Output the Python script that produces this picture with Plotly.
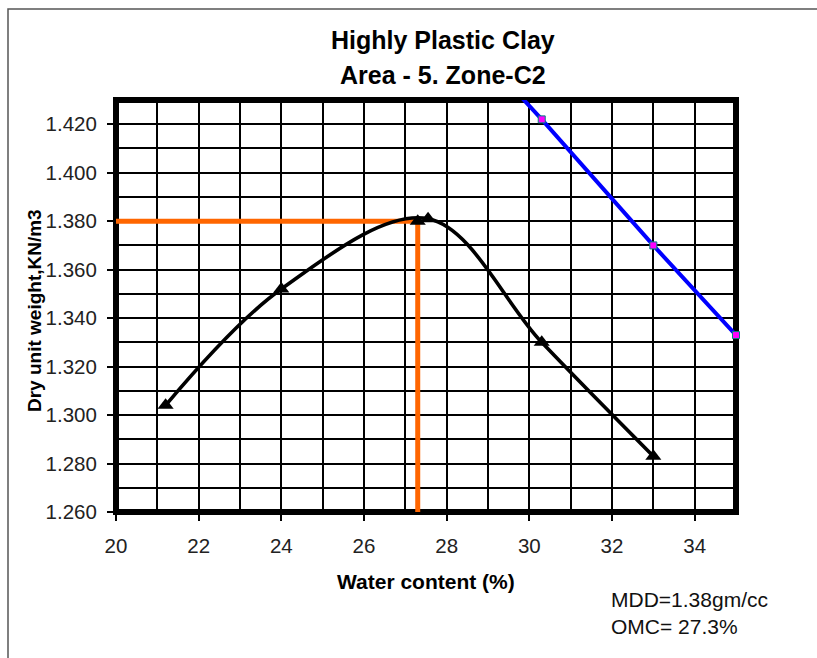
import plotly.graph_objects as go

# ---- data ----
water_content = [21.2, 24.0, 27.55, 30.3, 33.0]
dry_density = [1.304, 1.352, 1.381, 1.330, 1.283]

omc_marker_x = [27.3]
omc_marker_y = [1.380]

zav_water = [27.5, 30.3, 33.0, 35.0]
zav_density = [1.474, 1.422, 1.370, 1.333]

omc = 27.3
mdd = 1.38

x_range = [20, 35]
y_range = [1.26, 1.43]

title_line1 = "Highly Plastic Clay"
title_line2 = "Area - 5. Zone-C2"
x_title = "Water content (%)"
y_title = "Dry unit weight,KN/m3"
note_lines = ["MDD=1.38gm/cc", "OMC= 27.3%"]

# ---- layout geometry ----
W, H = 817, 658
L, R, T, B = 116, 736, 100, 512
ml, mr, mt, mb = L, W - R, T, H - B


def px(xp):
    return (xp - L) / (R - L)


def py(yp):
    return (B - yp) / (B - T)


FONT = "Liberation Sans, Arial, sans-serif"

fig = go.Figure()

fig.add_trace(go.Scatter(
    x=water_content, y=dry_density, mode="lines+markers",
    line=dict(color="black", width=3.6, shape="spline", smoothing=1.0),
    marker=dict(symbol="triangle-up", size=14, color="black"),
    showlegend=False, hoverinfo="skip"))

fig.add_trace(go.Scatter(
    x=omc_marker_x, y=omc_marker_y, mode="markers",
    marker=dict(symbol="triangle-up", size=14, color="black"),
    showlegend=False, hoverinfo="skip"))

fig.add_trace(go.Scatter(
    x=zav_water, y=zav_density, mode="lines+markers",
    line=dict(color="#0000FF", width=4),
    marker=dict(symbol="square", size=7, color="#FF00FF",
                line=dict(color="#008080", width=1)),
    cliponaxis=False,
    showlegend=False, hoverinfo="skip"))

shapes = []
# outer chart frame (top and left edges)
shapes.append(dict(type="path", xref="paper", yref="paper",
                   path=f"M {px(W + 10)},{py(9)} L {px(8)},{py(9)} L {px(8)},{py(H + 10)}",
                   line=dict(color="#555555", width=1.5), layer="below"))
# thick plot border
shapes.append(dict(type="rect", xref="paper", yref="paper", x0=0, x1=1, y0=0, y1=1,
                   line=dict(color="black", width=6), layer="between"))
# orange OMC / MDD lines
shapes.append(dict(type="line", xref="x", yref="y", x0=19.8, x1=omc, y0=mdd, y1=mdd,
                   line=dict(color="#FF6600", width=5), layer="between"))
shapes.append(dict(type="line", xref="x", yref="y", x0=omc, x1=omc, y0=mdd, y1=1.2575,
                   line=dict(color="#FF6600", width=5), layer="between"))

annotations = [
    dict(text=f"<b>{title_line1}</b>", x=px(443), y=py(40), xref="paper", yref="paper",
         showarrow=False, font=dict(family=FONT, size=25, color="black"),
         xanchor="center", yanchor="middle"),
    dict(text=f"<b>{title_line2}</b>", x=px(443), y=py(75), xref="paper", yref="paper",
         showarrow=False, font=dict(family=FONT, size=25, color="black"),
         xanchor="center", yanchor="middle"),
    dict(text=f"<b>{x_title}</b>", x=px(426), y=py(581), xref="paper", yref="paper",
         showarrow=False, font=dict(family=FONT, size=21, color="black"),
         xanchor="center", yanchor="middle"),
    dict(text=f"<b>{y_title}</b>", x=px(34), y=py(311), xref="paper", yref="paper",
         showarrow=False, textangle=-90, font=dict(family=FONT, size=19, color="black"),
         xanchor="center", yanchor="middle"),
    dict(text=note_lines[0], x=px(609), y=py(599), xref="paper", yref="paper",
         showarrow=False, font=dict(family=FONT, size=21, color="#111111"),
         xanchor="left", yanchor="middle"),
    dict(text=note_lines[1], x=px(609), y=py(626), xref="paper", yref="paper",
         showarrow=False, font=dict(family=FONT, size=21, color="#111111"),
         xanchor="left", yanchor="middle"),
]

fig.update_layout(
    width=W, height=H,
    margin=dict(l=ml, r=mr, t=mt, b=mb, pad=0),
    paper_bgcolor="white", plot_bgcolor="white",
    font=dict(family=FONT, size=20.5, color="#222222"),
    shapes=shapes, annotations=annotations,
    xaxis=dict(range=x_range, tick0=20, dtick=2, showgrid=True,
               gridcolor="black", gridwidth=2, zeroline=False,
               ticks="outside", ticklen=8, tickwidth=1.5, tickcolor="black",
               ticklabelstandoff=7,
               minor=dict(dtick=1, showgrid=True, gridcolor="black", gridwidth=2, ticks=""),
               showline=False, fixedrange=True),
    yaxis=dict(range=y_range, tick0=1.26, dtick=0.02, tickformat=".3f", showgrid=True,
               gridcolor="black", gridwidth=2, zeroline=False,
               ticks="outside", ticklen=8, tickwidth=1.5, tickcolor="black",
               ticklabelstandoff=6,
               minor=dict(dtick=0.01, showgrid=True, gridcolor="black", gridwidth=2, ticks=""),
               showline=False, fixedrange=True),
)

fig.write_html("out.html")
